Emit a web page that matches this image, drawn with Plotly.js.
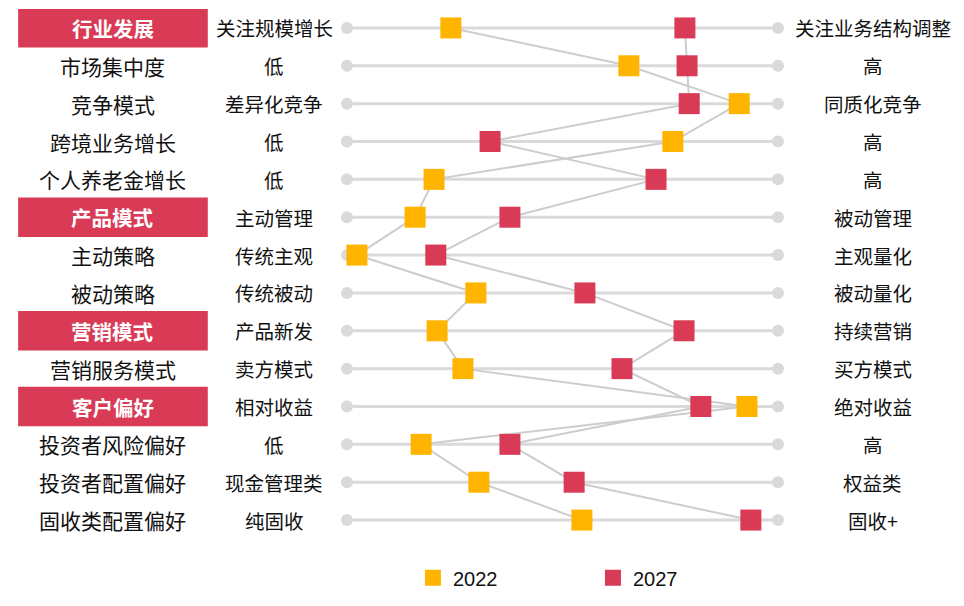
<!DOCTYPE html>
<html>
<head>
<meta charset="utf-8">
<script src="https://cdn.plot.ly/plotly-3.0.1.min.js"></script>
<style>html,body{margin:0;padding:0;background:#fff;}#chart{width:964px;height:606px;}</style>
</head>
<body>
<div id="chart"></div>
<script>
const categories = ["行业发展","市场集中度","竞争模式","跨境业务增长","个人养老金增长","产品模式","主动策略","被动策略","营销模式","营销服务模式","客户偏好","投资者风险偏好","投资者配置偏好","固收类配置偏好"];
const headerRows = [0, 5, 8, 10];
const leftLabels = ["关注规模增长","低","差异化竞争","低","低","主动管理","传统主观","传统被动","产品新发","卖方模式","相对收益","低","现金管理类","纯固收"];
const rightLabels = ["关注业务结构调整","高","同质化竞争","高","高","被动管理","主观量化","被动量化","持续营销","买方模式","绝对收益","高","权益类","固收+"];
const values2022 = [24.1, 65.4, 91.0, 75.6, 20.2, 15.8, 2.3, 29.9, 20.9, 26.9, 92.8, 17.2, 30.6, 54.5];
const values2027 = [78.4, 78.9, 79.4, 33.2, 71.7, 37.8, 20.6, 55.2, 78.2, 63.8, 82.1, 37.8, 52.7, 93.7];
const seriesNames = ["2022", "2027"];

const rows = categories.map((_, i) => i);
const YELLOW = "#FFB400", RED = "#D93A55", GREY = "#dadada", LINKGREY = "#cdcdcd";

// track lines with end dots
const tx = [], ty = [];
rows.forEach(i => { tx.push(0, 100, null); ty.push(i, i, null); });

const traces = [
  {x: tx, y: ty, mode: "lines+markers", line: {color: GREY, width: 3},
   marker: {symbol: "circle", size: 12, color: GREY}, showlegend: false, hoverinfo: "skip", cliponaxis: false},
  {x: values2022, y: rows, mode: "lines", line: {color: LINKGREY, width: 2}, showlegend: false, hoverinfo: "skip"},
  {x: values2027, y: rows, mode: "lines", line: {color: LINKGREY, width: 2}, showlegend: false, hoverinfo: "skip"},
  {x: values2022, y: rows, mode: "markers", name: seriesNames[0],
   marker: {symbol: "square", size: 21, color: YELLOW}, cliponaxis: false},
  {x: values2027, y: rows, mode: "markers", name: seriesNames[1],
   marker: {symbol: "square", size: 21, color: RED}, cliponaxis: false}
];

const annotations = [];
const shapes = [];
rows.forEach(i => {
  const isHeader = headerRows.includes(i);
  if (isHeader) {
    shapes.push({type: "rect", xref: "paper", yref: "y", x0: -0.763, x1: -0.323,
      y0: i - 0.52, y1: i + 0.52, fillcolor: RED, line: {width: 0}, layer: "below"});
  }
  annotations.push({xref: "paper", yref: "y", x: -0.543, y: i, text: isHeader ? "<b>" + categories[i] + "</b>" : categories[i],
    showarrow: false, xanchor: "center", yanchor: "middle",
    font: {size: isHeader ? 20.5 : 21, color: isHeader ? "#ffffff" : "#111111"}});
  annotations.push({xref: "paper", yref: "y", x: -0.169, y: i, text: leftLabels[i],
    showarrow: false, xanchor: "center", yanchor: "middle", font: {size: 19.5, color: "#111111"}});
  annotations.push({xref: "paper", yref: "y", x: 1.22, y: i, text: rightLabels[i],
    showarrow: false, xanchor: "center", yanchor: "middle", font: {size: 19.5, color: "#111111"}});
});

const layout = {
  width: 964, height: 606,
  margin: {l: 347, r: 186, t: 9, b: 0},
  paper_bgcolor: "#ffffff", plot_bgcolor: "rgba(0,0,0,0)",
  font: {family: "'Noto Sans CJK SC', 'Noto Sans', sans-serif", color: "#111111"},
  xaxis: {range: [0, 100], visible: false, fixedrange: true},
  yaxis: {range: [15.27, -0.5], visible: false, fixedrange: true},
  showlegend: true,
  legend: {orientation: "h", x: 0.153, xanchor: "left", y: 0.08, yanchor: "top",
    entrywidth: 135, entrywidthmode: "pixels", bgcolor: "rgba(0,0,0,0)",
    font: {family: "'Liberation Sans', Arial, sans-serif", size: 20, color: "#111111"}},
  annotations: annotations,
  shapes: shapes
};

Plotly.newPlot("chart", traces, layout, {displayModeBar: false, staticPlot: true});
</script>
</body>
</html>
